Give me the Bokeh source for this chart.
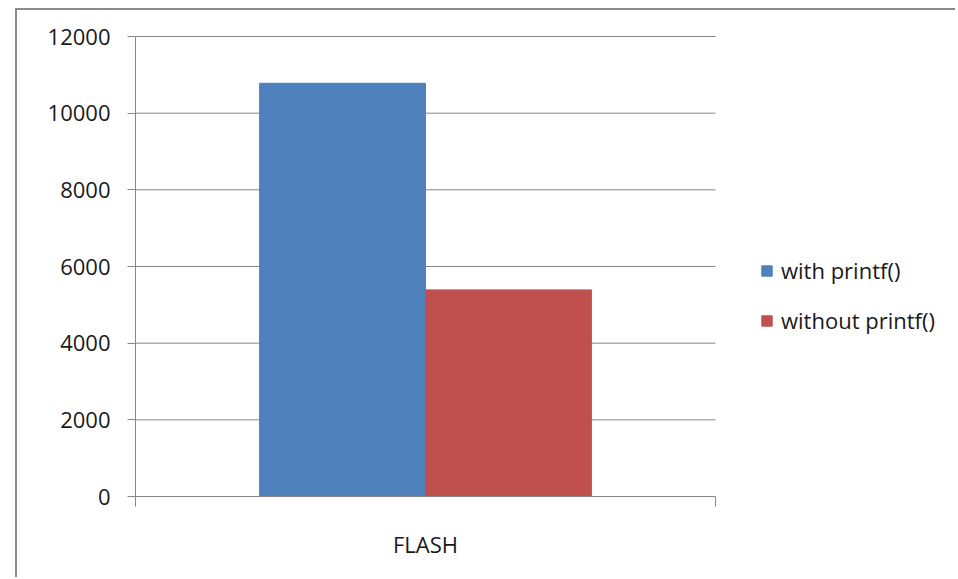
from bokeh.plotting import figure
from bokeh.models import Range1d, FixedTicker, ColumnDataSource, Legend, LegendItem
from bokeh.embed import file_html
from bokeh.resources import INLINE
import numpy as np

categories = ["FLASH"]
series_names = ["with printf()", "without printf()"]
with_printf = [10780]
without_printf = [5390]
y_ticks = [0, 2000, 4000, 6000, 8000, 10000, 12000]
colors = ["#4F81BD", "#C0504D"]

FONT = "Open Sans"
GRAY = "#868686"

# layout: plot area 580 px per category, extra frame space on the right holds the legend
cat_px = 580.0
frame_w = 822.0
frame_h = 466.0
n = len(categories)
x_end = n * frame_w / cat_px
y_end = y_ticks[-1] * frame_h / 460.0

p = figure(width=940, height=569, output_backend="svg", toolbar_location=None,
           x_range=Range1d(0, x_end), y_range=Range1d(0, y_end),
           min_border_left=118, min_border_right=0, min_border_top=20, min_border_bottom=83)
p.margin = (8, 0, 0, 15)
p.styles = {"border-left": "2px solid #8a8a8a", "border-top": "2px solid #8a8a8a"}

# horizontal gridlines spanning only the category area
p.segment(x0=[0] * len(y_ticks), x1=[n] * len(y_ticks), y0=y_ticks, y1=y_ticks,
          line_color=GRAY, line_width=1)

idx = np.arange(n) + 0.5
bw = 0.286
src1 = ColumnDataSource(dict(x=idx - bw / 2, top=with_printf))
src2 = ColumnDataSource(dict(x=idx + bw / 2, top=without_printf))
r1 = p.vbar(x="x", top="top", width=bw, bottom=0, source=src1, color=colors[0])
r2 = p.vbar(x="x", top="top", width=bw, bottom=0, source=src2, color=colors[1])

p.outline_line_color = None
p.background_fill_color = "white"
p.border_fill_color = "white"
p.xgrid.grid_line_color = None
p.ygrid.grid_line_color = None

# y axis
p.yaxis.ticker = FixedTicker(ticks=y_ticks)
p.yaxis.bounds = (0, y_ticks[-1])
p.yaxis.axis_line_color = GRAY
p.yaxis.major_tick_line_color = GRAY
p.yaxis.major_tick_out = 8
p.yaxis.major_tick_in = 0
p.yaxis.minor_tick_line_color = None
p.yaxis.major_label_standoff = 17
p.yaxis.major_label_text_font = FONT
p.yaxis.major_label_text_font_size = "22px"
p.yaxis.major_label_text_color = "#1a1a1a"

# x axis (category labels at centers, tick marks at category boundaries)
p.xaxis.ticker = FixedTicker(ticks=list(idx), minor_ticks=list(np.arange(n + 1)))
p.xaxis.major_label_overrides = {float(v): c for v, c in zip(idx, categories)}
p.xaxis.bounds = (0, n)
p.xaxis.axis_line_color = GRAY
p.xaxis.major_tick_line_color = None
p.xaxis.major_tick_out = 0
p.xaxis.major_tick_in = 0
p.xaxis.minor_tick_line_color = GRAY
p.xaxis.minor_tick_out = 10
p.xaxis.minor_tick_in = 0
p.xaxis.major_label_standoff = 22
p.xaxis.major_label_text_font = FONT
p.xaxis.major_label_text_font_size = "22px"
p.xaxis.major_label_text_color = "#1a1a1a"

lg = Legend(items=[LegendItem(label=series_names[0], renderers=[r1]),
                   LegendItem(label=series_names[1], renderers=[r2])],
            location=(625, 161))
lg.padding = 0
lg.margin = 0
lg.border_line_color = None
lg.background_fill_alpha = 0
lg.glyph_width = 13
lg.glyph_height = 13
lg.label_height = 20
lg.spacing = 20
lg.label_standoff = 8
lg.label_text_font = FONT
lg.label_text_font_size = "22px"
lg.label_text_color = "#1a1a1a"
p.add_layout(lg, "center")

open("out.html", "w").write(file_html(p, INLINE))
